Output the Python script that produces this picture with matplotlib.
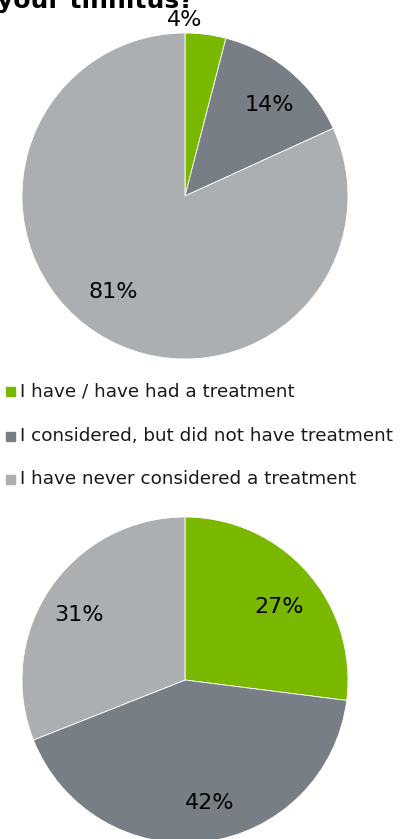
import matplotlib
matplotlib.use("Agg")
import matplotlib.pyplot as plt

W, H = 402, 839
DPI = 100

categories = ["I have / have had a treatment",
              "I considered, but did not have treatment",
              "I have never considered a treatment"]
top_values = [4, 14, 81]
bottom_values = [27, 42, 31]
title_text = "your tinnitus?"
colors = ["#7AB800", "#787E85", "#ABAFB2"]

fig = plt.figure(figsize=(W / DPI, H / DPI), dpi=DPI)

def px_axes(cx, cy, r):
    return [(cx - r) / W, 1 - (cy + r) / H, 2 * r / W, 2 * r / H]

def draw_pie(ax, values, label_pos):
    ax.pie(values, colors=colors, startangle=90, counterclock=False,
           radius=1.0, wedgeprops=dict(linewidth=0.6, edgecolor="white"))
    ax.set_xlim(-1, 1)
    ax.set_ylim(-1, 1)
    ax.set_aspect("equal")
    ax.axis("off")
    for v, (x, y) in zip(values, label_pos):
        ax.text(x, y, f"{v}%", ha="center", va="center", fontsize=16, color="black",
                family="DejaVu Sans")

r = 163
ax1 = fig.add_axes(px_axes(185, 196, r))
draw_pie(ax1, top_values, [(0.0, 1.08), (0.52, 0.56), (-0.44, -0.59)])

ax2 = fig.add_axes(px_axes(185, 680, r))
draw_pie(ax2, bottom_values, [(0.58, 0.45), (0.15, -0.755), (-0.65, 0.40)])

# title (cut off at the top edge as in the reference)
fig.text(-3 / W, 1 - 8 / H, title_text, ha="left", va="baseline", fontsize=18,
         fontweight="bold", family="DejaVu Sans")

# legend
ys = [391, 436, 479]
for c, lab, y in zip(colors, categories, ys):
    fig.patches.append(plt.Rectangle((6 / W, 1 - (y + 5) / H), 9 / W, 9 / H,
                                     transform=fig.transFigure, color=c))
    fig.text(20 / W, 1 - y / H, lab, ha="left", va="center", fontsize=13.2,
             family="DejaVu Sans", color="#1a1a1a")

fig.savefig("out.png", dpi=DPI)
